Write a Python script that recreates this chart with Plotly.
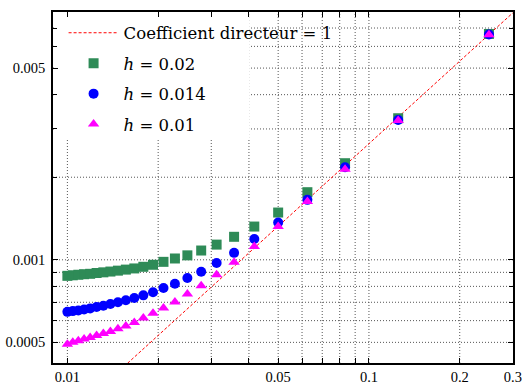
import numpy as np
import plotly.graph_objects as go

# Mesh size (abscissa) and measured error for three values of h
mesh = [0.01, 0.01042, 0.01087, 0.01136, 0.0119, 0.0125, 0.01316, 0.01389,
        0.01471, 0.01563, 0.01667, 0.01786, 0.01923, 0.02083, 0.02273, 0.025,
        0.02778, 0.03125, 0.03571, 0.04167, 0.05, 0.0625, 0.08333, 0.125, 0.25]

err_h002 = [0.000874, 0.000878, 0.000882, 0.000886, 0.000889, 0.000895, 0.000900,
            0.000906, 0.000913, 0.000921, 0.000930, 0.000943, 0.000959, 0.000983,
            0.001011, 0.001038, 0.001081, 0.001136, 0.001213, 0.001322, 0.001487,
            0.001764, 0.002250, 0.003282, 0.00666]

err_h0014 = [0.000646, 0.000650, 0.000654, 0.000659, 0.000665, 0.000673, 0.000680,
             0.000690, 0.000700, 0.000712, 0.000726, 0.000742, 0.000761, 0.000789,
             0.000818, 0.000858, 0.000904, 0.000973, 0.001060, 0.001190, 0.001367,
             0.001654, 0.002176, 0.003236, 0.00663]

err_h001 = [0.000492, 0.000500, 0.000507, 0.000514, 0.000521, 0.000530, 0.000539,
            0.000548, 0.000561, 0.000574, 0.000591, 0.000613, 0.000638, 0.000667,
            0.000701, 0.000750, 0.000804, 0.000882, 0.000979, 0.001118, 0.001322,
            0.001631, 0.002140, 0.003218, 0.00662]

# Reference line of slope 1 in log-log scale: y = coeff * x
slope_coeff = 0.0265
slope_x = np.array([0.009, 0.3])

x_major = [0.01, 0.05, 0.1, 0.2, 0.3]
x_major_text = ["0.01", "0.05", "0.1", "0.2", "0.3"]
x_minor = [0.02, 0.03, 0.04, 0.06, 0.07, 0.08, 0.09]

y_major = [0.0005, 0.001, 0.005]
y_major_text = ["0.0005", "0.001", "0.005"]
y_minor = [0.0006, 0.0007, 0.0008, 0.0009, 0.002, 0.003, 0.004, 0.006, 0.007]

GRID = "#555555"
GRID_DASH = "1px,2px"

fig = go.Figure()

fig.add_trace(go.Scatter(
    x=slope_x, y=slope_coeff * slope_x, mode="lines",
    line=dict(color="#ff0000", width=1, dash="3px,2px"),
    name="Coefficient directeur = 1", legendgroup="a"))

fig.add_trace(go.Scatter(
    x=mesh, y=err_h002, mode="markers",
    marker=dict(symbol="square", size=10, color="#2e8b57"),
    name="<i>h</i> = 0.02", legendgroup="b"))

fig.add_trace(go.Scatter(
    x=mesh, y=err_h0014, mode="markers",
    marker=dict(symbol="circle", size=10, color="#0000ff"),
    name="<i>h</i> = 0.014", legendgroup="c"))

fig.add_trace(go.Scatter(
    x=mesh, y=err_h001, mode="markers",
    marker=dict(symbol="triangle-up", size=10, color="#ff00ff"),
    name="<i>h</i> = 0.01", legendgroup="d"))

axis_common = dict(
    type="log", showline=True, linecolor="black", linewidth=1.5, mirror="ticks",
    ticks="inside", ticklen=5, tickcolor="black", tickwidth=1,
    showgrid=False, zeroline=False, automargin=False,
    ticklabeloverflow="allow",
    tickfont=dict(family="Liberation Serif", size=14.5, color="black"),
)

fig.update_xaxes(
    **axis_common,
    range=[np.log10(0.00896), np.log10(0.3004)],
    tickmode="array", tickvals=x_major, ticktext=x_major_text,
    ticklabelstandoff=0,
    minor=dict(tickmode="array", tickvals=x_minor, ticks="inside", ticklen=5,
               tickcolor="black", showgrid=False),
)

fig.update_yaxes(
    **axis_common,
    range=[-3.3763, -2.0965],
    tickmode="array", tickvals=y_major, ticktext=y_major_text,
    ticklabelstandoff=3,
    minor=dict(tickmode="array", tickvals=y_minor, ticks="inside", ticklen=4,
               tickcolor="black", showgrid=False),
)

# Dotted grid drawn as shapes so the legend panel can sit on top of it
grid_line = dict(color=GRID, width=1, dash=GRID_DASH)
for v in x_major[:-1] + x_minor:
    fig.add_shape(type="line", xref="x", yref="paper", x0=v, x1=v, y0=0, y1=1,
                  line=grid_line, layer="below")
for v in y_major + y_minor:
    fig.add_shape(type="line", xref="paper", yref="y", x0=0, x1=1, y0=v, y1=v,
                  line=grid_line, layer="below")

# White panel behind the legend, hiding the grid there
fig.add_shape(type="rect", xref="paper", yref="paper",
              x0=0.004, x1=0.4276, y0=0.641, y1=0.996,
              fillcolor="white", line=dict(width=0), layer="below")

fig.update_layout(
    width=522, height=383,
    margin=dict(l=53, r=9, t=12, b=20),
    paper_bgcolor="white", plot_bgcolor="white",
    font=dict(family="DejaVu Serif", color="black"),
    legend=dict(
        x=0.023, y=0.99, xanchor="left", yanchor="top",
        bgcolor="rgba(0,0,0,0)", borderwidth=0,
        font=dict(family="DejaVu Serif", size=16.5, color="black"),
        itemwidth=50, traceorder="grouped", tracegroupgap=6,
    ),
    showlegend=True,
)

fig.write_html("out.html")
